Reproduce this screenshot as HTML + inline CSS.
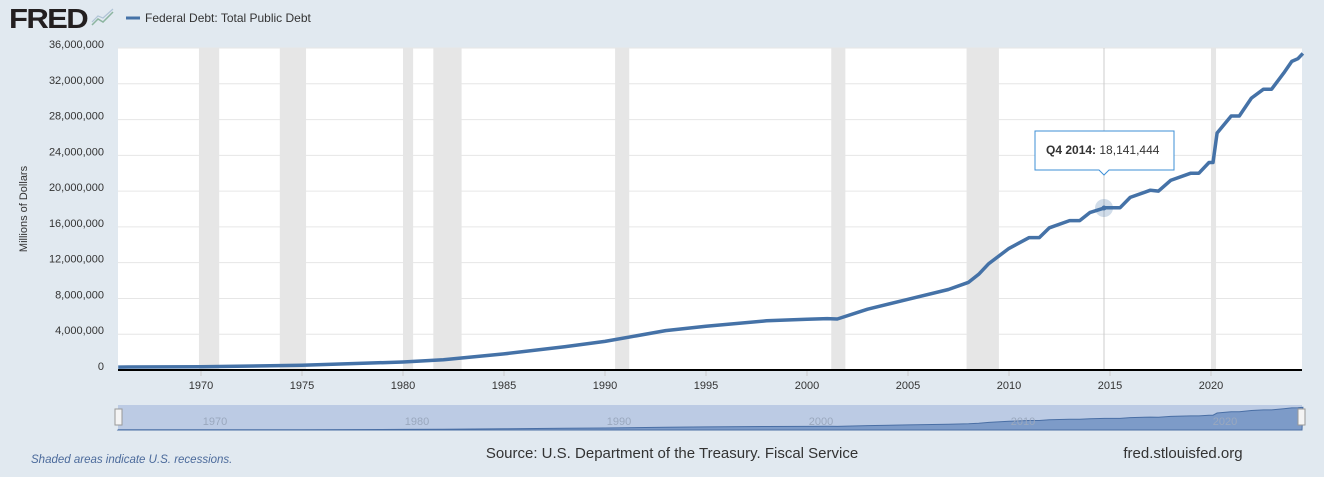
<!DOCTYPE html>
<html><head><meta charset="utf-8"><style>
html,body{margin:0;padding:0;width:1324px;height:477px;overflow:hidden;background:#e1e9f0;font-family:"Liberation Sans",sans-serif}
</style></head><body>
<svg id="s" width="1324" height="477" xmlns="http://www.w3.org/2000/svg" font-family="Liberation Sans, sans-serif">
<rect width="1324" height="477" fill="#e1e9f0"/>
<text x="9" y="28" font-size="28" font-weight="bold" fill="#231f20" letter-spacing="-1.5" textLength="78" lengthAdjust="spacingAndGlyphs">FRED</text>
<polyline points="92,25 98,19 103,22 113,12" fill="none" stroke="#8cb5a0" stroke-width="1.5"/>
<polyline points="92,22 98,16 103,18 113,9" fill="none" stroke="#b0c4d6" stroke-width="1.2"/>
<line x1="126" y1="18" x2="140" y2="18" stroke="#4572a7" stroke-width="3"/>
<text x="145" y="22" font-size="12" fill="#333">Federal Debt: Total Public Debt</text>
<rect x="118" y="48" width="1184" height="322" fill="#fff"/>
<g id="rec" fill="#e6e6e6"></g>
<g id="grid" stroke="#e6e6e6" stroke-width="1"></g>
<g id="ylab" font-size="11" fill="#333" text-anchor="end"></g>
<text transform="translate(27,209) rotate(-90)" font-size="11" fill="#333" text-anchor="middle">Millions of Dollars</text>
<line x1="1104" y1="48" x2="1104" y2="370" stroke="#ccc" stroke-width="1"/>
<path id="line" fill="none" stroke="#4572a7" stroke-width="3.5" stroke-linejoin="round"/>
<line x1="118" y1="370" x2="1302" y2="370" stroke="#000" stroke-width="2"/>
<g id="xlab" font-size="11" fill="#333" text-anchor="middle"></g>
<circle cx="1104" cy="208" r="9" fill="#4572a7" opacity="0.25"/>
<circle cx="1104" cy="208" r="2.5" fill="#4572a7"/>
<path d="M1035,131 H1174 V170 H1109 L1104,175 L1099,170 H1035 Z" fill="#fff" stroke="#3d8fd6" stroke-width="1"/>
<text x="1046" y="154" font-size="12" fill="#333"><tspan font-weight="bold">Q4 2014:</tspan> 18,141,444</text>
<rect x="118" y="405" width="1184" height="25" fill="#bccbe4"/>
<path id="nav" fill="#7d9bc8" stroke="#4a6fa5" stroke-width="1"/>
<g id="nlab" font-size="11" fill="#9aa8be" text-anchor="middle"></g>
<rect x="115" y="409" width="7" height="16" fill="#f4f4f4" stroke="#999"/>
<rect x="1298" y="409" width="7" height="16" fill="#f4f4f4" stroke="#999"/>
<text x="31" y="463" font-size="11.5" font-style="italic" fill="#4b6a9b">Shaded areas indicate U.S. recessions.</text>
<text x="672" y="458" font-size="15" fill="#333" text-anchor="middle">Source: U.S. Department of the Treasury. Fiscal Service</text>
<text x="1183" y="458" font-size="15" fill="#333" text-anchor="middle">fred.stlouisfed.org</text>
</svg>
<script>
var NS="http://www.w3.org/2000/svg";
function X(y){return 201+(y-1970)*20.2}
function Y(v){return 370-v*8.944}
function el(p,t,a,txt){var e=document.createElementNS(NS,t);for(var k in a)e.setAttribute(k,a[k]);if(txt)e.textContent=txt;document.getElementById(p).appendChild(e);}
[[1969.9,1970.9],[1973.9,1975.2],[1980,1980.5],[1981.5,1982.9],[1990.5,1991.2],[2001.2,2001.9],[2007.9,2009.5],[2020,2020.25]].forEach(function(r){el("rec","rect",{x:X(r[0]),y:48,width:(r[1]-r[0])*20.2,height:322});});
for(var i=0;i<=9;i++){var v=i*4,y=Y(v);if(i>0)el("grid","line",{x1:118,x2:1302,y1:y,y2:y});
el("ylab","text",{x:104,y:y},i==0?"0":(v/1).toLocaleString("en-US")+",000,000");}
for(var yr=1970;yr<=2020;yr+=5){el("xlab","text",{x:X(yr),y:389},""+yr);el("grid","line",{x1:X(yr),x2:X(yr),y1:370,y2:376,stroke:"#ccc"});}
for(var yr=1970;yr<=2020;yr+=10){el("nlab","text",{x:X(yr)+14,y:425},""+yr);}
var d=[[1965.9,0.32],[1970,0.37],[1975,0.53],[1980,0.9],[1982,1.14],[1985,1.8],[1988,2.6],[1990,3.2],[1993,4.4],[1995,4.9],[1998,5.5],[2000,5.67],[2001,5.75],[2001.5,5.7],[2003,6.8],[2005,7.9],[2007,9.0],[2008,9.8],[2008.5,10.7],[2009,11.9],[2010,13.6],[2011,14.8],[2011.5,14.8],[2012,15.9],[2013,16.7],[2013.5,16.7],[2014,17.6],[2014.75,18.14],[2015.5,18.15],[2016,19.3],[2017,20.1],[2017.4,20.0],[2018,21.2],[2019,22.0],[2019.4,22.0],[2019.9,23.2],[2020.1,23.2],[2020.3,26.5],[2021,28.4],[2021.4,28.4],[2022,30.4],[2022.6,31.4],[2023,31.4],[2023.6,33.2],[2024,34.5],[2024.3,34.8],[2024.55,35.4]];
var p="",n="";d.forEach(function(q,i){p+=(i?"L":"M")+X(q[0]).toFixed(1)+","+Y(q[1]).toFixed(1);n+="L"+X(q[0]).toFixed(1)+","+(430-q[1]*0.64).toFixed(1);});
document.getElementById("line").setAttribute("d",p);
document.getElementById("nav").setAttribute("d","M118,430"+n+"L1302,430Z");
</script>
</body></html>
